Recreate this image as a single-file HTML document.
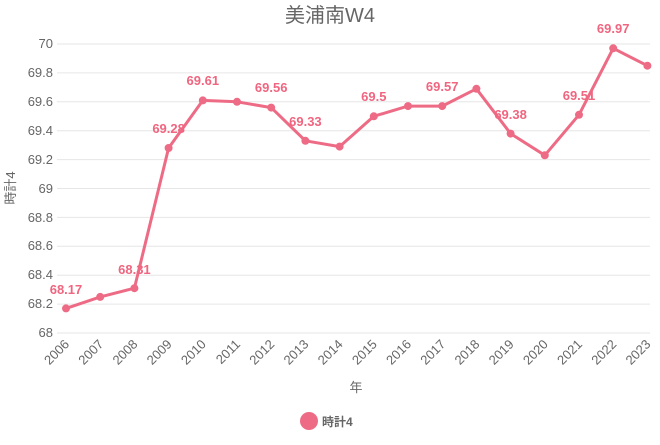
<!DOCTYPE html>
<html><head><meta charset="utf-8"><style>
body{margin:0;background:#fff}
text{font-family:"Liberation Sans","Noto Sans CJK JP",sans-serif}
</style></head><body>
<svg width="660" height="440" xmlns="http://www.w3.org/2000/svg">
<text x="330" y="22" text-anchor="middle" font-size="20" fill="#666">美浦南W4</text>
<g stroke="#e6e6e6" stroke-width="1">
<line x1="57" x2="650" y1="44" y2="44"/><line x1="57" x2="650" y1="72.9" y2="72.9"/>
<line x1="57" x2="650" y1="101.8" y2="101.8"/><line x1="57" x2="650" y1="130.7" y2="130.7"/>
<line x1="57" x2="650" y1="159.6" y2="159.6"/><line x1="57" x2="650" y1="188.5" y2="188.5"/>
<line x1="57" x2="650" y1="217.4" y2="217.4"/><line x1="57" x2="650" y1="246.3" y2="246.3"/>
<line x1="57" x2="650" y1="275.2" y2="275.2"/><line x1="57" x2="650" y1="304.1" y2="304.1"/>
<line x1="57" x2="650" y1="333" y2="333"/>
</g>
<g font-size="13" fill="#666" text-anchor="end">
<text x="53" y="48">70</text><text x="53" y="77">69.8</text><text x="53" y="106">69.6</text>
<text x="53" y="135">69.4</text><text x="53" y="164">69.2</text><text x="53" y="193">69</text>
<text x="53" y="222">68.8</text><text x="53" y="250">68.6</text><text x="53" y="279">68.4</text>
<text x="53" y="308">68.2</text><text x="53" y="337">68</text>
</g>
<text transform="translate(15,188) rotate(-90)" text-anchor="middle" font-size="13" fill="#666">時計4</text>
<g font-size="13" fill="#666" text-anchor="end">
<text transform="translate(70,345) rotate(-45)">2006</text>
<text transform="translate(104.2,345) rotate(-45)">2007</text>
<text transform="translate(138.4,345) rotate(-45)">2008</text>
<text transform="translate(172.6,345) rotate(-45)">2009</text>
<text transform="translate(206.8,345) rotate(-45)">2010</text>
<text transform="translate(241,345) rotate(-45)">2011</text>
<text transform="translate(275.2,345) rotate(-45)">2012</text>
<text transform="translate(309.4,345) rotate(-45)">2013</text>
<text transform="translate(343.6,345) rotate(-45)">2014</text>
<text transform="translate(377.8,345) rotate(-45)">2015</text>
<text transform="translate(412,345) rotate(-45)">2016</text>
<text transform="translate(446.2,345) rotate(-45)">2017</text>
<text transform="translate(480.4,345) rotate(-45)">2018</text>
<text transform="translate(514.6,345) rotate(-45)">2019</text>
<text transform="translate(548.8,345) rotate(-45)">2020</text>
<text transform="translate(583,345) rotate(-45)">2021</text>
<text transform="translate(617.2,345) rotate(-45)">2022</text>
<text transform="translate(651.4,345) rotate(-45)">2023</text>
</g>
<text x="356" y="392" text-anchor="middle" font-size="13" fill="#666">年</text>
<polyline fill="none" stroke="#ee6b85" stroke-width="3" stroke-linejoin="round" points="66,308.4 100.2,296.9 134.4,288.2 168.6,148 202.8,100.4 237,101.8 271.2,107.6 305.4,140.8 339.6,146.6 373.8,116.3 408,106.1 442.2,106.1 476.4,88.8 510.6,133.6 544.8,155.3 579,114.8 613.2,48.3 647.4,65.7"/>
<g fill="#ee6b85">
<circle cx="66" cy="308.4" r="4"/><circle cx="100.2" cy="296.9" r="4"/><circle cx="134.4" cy="288.2" r="4"/>
<circle cx="168.6" cy="148" r="4"/><circle cx="202.8" cy="100.4" r="4"/><circle cx="237" cy="101.8" r="4"/>
<circle cx="271.2" cy="107.6" r="4"/><circle cx="305.4" cy="140.8" r="4"/><circle cx="339.6" cy="146.6" r="4"/>
<circle cx="373.8" cy="116.3" r="4"/><circle cx="408" cy="106.1" r="4"/><circle cx="442.2" cy="106.1" r="4"/>
<circle cx="476.4" cy="88.8" r="4"/><circle cx="510.6" cy="133.6" r="4"/><circle cx="544.8" cy="155.3" r="4"/>
<circle cx="579" cy="114.8" r="4"/><circle cx="613.2" cy="48.3" r="4"/><circle cx="647.4" cy="65.7" r="4"/>
</g>
<g font-size="13" font-weight="bold" fill="#f0657f" text-anchor="middle">
<text x="66" y="294">68.17</text><text x="134.4" y="274">68.31</text>
<text x="168.6" y="133">69.28</text><text x="202.8" y="85">69.61</text>
<text x="271.2" y="92">69.56</text><text x="305.4" y="126">69.33</text>
<text x="373.8" y="101">69.5</text><text x="442.2" y="91">69.57</text>
<text x="510.6" y="119">69.38</text><text x="579" y="100">69.51</text>
<text x="613.2" y="33">69.97</text>
</g>
<circle cx="309" cy="421" r="9" fill="#ee6b85"/>
<text x="322" y="426" font-size="12" font-weight="bold" fill="#666">時計4</text>
</svg>
</body></html>
